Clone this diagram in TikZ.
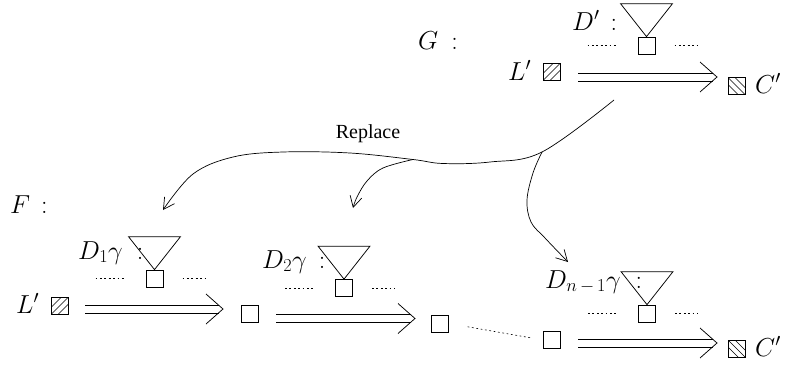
\RequirePackage{fix-cm}
\documentclass[tikz,border=0pt]{standalone}
\usepackage{fontspec}
\newfontfamily\timesfont{Liberation Serif}
\usetikzlibrary{calc,arrows.meta}
% double-line implication arrow: shaft from #1, open head with tip at #2
\newcommand\implarrow[2]{%
  \draw[thinline] ($(#1)+(0,-4)$) -- ($(#2)+(-4.5,-4)$);
  \draw[thinline] ($(#1)+(0,4)$) -- ($(#2)+(-4.5,4)$);
  \draw[thinline] ($(#2)+(-17,-15)$) -- (#2) -- ($(#2)+(-17,15)$);
}
% a small tree: triangle above the box #1, dotted stubs left and right
\newcommand\subtree[1]{%
  \draw[thinline] (#1.north) -- ++(-26,-33) -- ++(52,0) -- cycle;
  \draw[stub] ($(#1.center)+(-59,0)$) -- ++(30,0);
  \draw[stub] ($(#1.center)+(28,0)$) -- ++(23,0);
}
\begin{document}
\begin{tikzpicture}[x=1pt,y=-1pt,
  lbl/.style={anchor=base west,inner sep=0pt,font=\fontsize{26}{30}\selectfont},
  thinline/.style={line width=0.75pt},
  box/.style={draw,line width=0.75pt,minimum size=17pt,inner sep=0pt},
  hatchne/.style={box,path picture={\foreach \k in {-7,0,7}{\draw[line width=0.6pt] ([xshift=\k pt]path picture bounding box.center) ++(-12pt,-12pt) -- ++(24pt,24pt);}}},
  hatchnw/.style={box,path picture={\foreach \k in {-7,0,7}{\draw[line width=0.6pt] ([xshift=\k pt]path picture bounding box.center) ++(-12pt,12pt) -- ++(24pt,-24pt);}}},
  stub/.style={line width=0.6pt,dash pattern=on 1.8pt off 2.6pt},
  replarrow/.style={line width=0.7pt,-{Straight Barb[length=11pt,width=12pt,line width=0.7pt]}}]
\useasboundingbox (0,0) rectangle (789,370);

% ---------- G ----------
\node[lbl] (gname) at (418,49) {$G$\hspace{13pt}$:$};
\node[box] (sqT) at (646.5,45.5) {};
\subtree{sqT}
\node[lbl] (dT) at (572,30) {$D'$\hspace{11pt}$:$};
\node[hatchne] (lsqT) at (551.5,72) {};
\node[lbl] (lT) at (508,80) {$L'$};
\node[hatchnw] (csqT) at (736.5,86) {};
\node[lbl] (cT) at (755,93) {$C'$};
\coordinate (aTs) at (578,77);
\coordinate (aTe) at (717,77);
\implarrow{aTs}{aTe}

% ---------- replacement ----------
\node[font=\timesfont\fontsize{20}{24}\selectfont,inner sep=0pt] (rep) at (368,134) {Replace};
\coordinate (rs) at (614,100);
\coordinate (j3) at (542,152);
\coordinate (j2) at (413,159.5);
\coordinate (t1) at (163,210);
\coordinate (t2) at (353,208);
\coordinate (t3) at (568,262);
\draw[replarrow] plot[smooth,tension=0.6] coordinates {(rs) (j3) (490,162) (443,163.5) (j2) (350,153) (283,152) (233,157) (193,174) (t1)};
\draw[replarrow] plot[smooth,tension=0.6] coordinates {(j2) (383,168) (367,181) (357,197) (t2)};
\draw[replarrow] plot[smooth,tension=0.6] coordinates {(j3) (533,173) (527,200) (531,222) (545,238) (t3)};

% ---------- F ----------
\node[lbl] (fname) at (10,213) {$F$\hspace{11pt}$:$};
\node[hatchne] (lsqB) at (60,305.5) {};
\node[lbl] (lB) at (16,313) {$L'$};

\node[box] (sq1) at (154.5,278.5) {};
\subtree{sq1}
\node[lbl] (d1) at (78,259) {$D_1\gamma$\hspace{14pt}$:$};

\node[box] (sq2) at (249.5,314) {};
\node[box] (sq3) at (344,288) {};
\subtree{sq3}
\node[lbl] (d2) at (262,268) {$D_2\gamma$\hspace{12pt}$:$};

\node[box] (sq4) at (440,323.5) {};
\node[box] (sq5) at (552,340) {};
\node[box] (sq6) at (647,313.5) {};
\subtree{sq6}
\node[lbl] (dn) at (545,288) {$D_{n\,-\,1}\gamma$\hspace{15pt}$:$};

\node[hatchnw] (csqB) at (736.5,348.5) {};
\node[lbl] (cB) at (755,356) {$C'$};

\coordinate (a1s) at (85,309);
\coordinate (a1e) at (223,309);
\implarrow{a1s}{a1e}
\coordinate (a2s) at (276,318.5);
\coordinate (a2e) at (415,318.5);
\implarrow{a2s}{a2e}
\coordinate (a3s) at (578,343);
\coordinate (a3e) at (717,343);
\implarrow{a3s}{a3e}
\draw[stub,shorten <=19pt,shorten >=11pt] (sq4.east) -- (sq5.west);
\end{tikzpicture}
\end{document}
